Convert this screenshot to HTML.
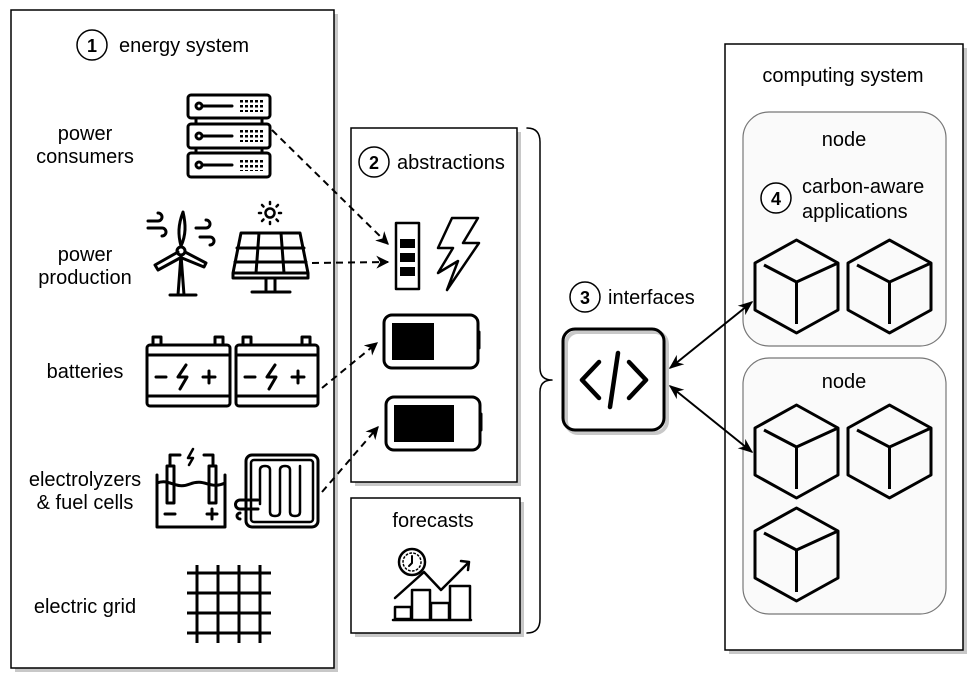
<!DOCTYPE html>
<html><head><meta charset="utf-8"><style>
html,body{margin:0;padding:0;background:#fff;}
svg{display:block;}
text{font-family:"Liberation Sans",Arial,sans-serif;fill:#000;}
</style></head><body>
<svg width="979" height="680" viewBox="0 0 979 680" xmlns="http://www.w3.org/2000/svg">
<defs>
<marker id="ah" viewBox="0 0 10 10" refX="9" refY="5" markerWidth="13" markerHeight="13" orient="auto-start-reverse" markerUnits="userSpaceOnUse"><path d="M0,0 L10,5 L0,10 L3,5 z" fill="#000"/></marker>
<marker id="ah2" viewBox="0 0 10 10" refX="9" refY="5" markerWidth="15" markerHeight="15" orient="auto-start-reverse" markerUnits="userSpaceOnUse"><path d="M0,1 L10,5 L0,9 L3,5 z" fill="#000"/></marker>
<g id="cube" fill="none" stroke="#000" stroke-width="3" stroke-linejoin="round">
<path d="M41.5,0 L83,23 L83,70 L41.5,93 L0,70 L0,23 Z"/>
<path d="M9,25 L41.5,42 L83,23 M41.5,42 L41.5,84"/>
</g>
<pattern id="dots" width="5" height="5" patternUnits="userSpaceOnUse"><rect width="3" height="2.5" fill="#000"/></pattern>
</defs>
<rect x="15" y="14" width="323" height="658" fill="#c8c8c8"/>
<rect x="355" y="132" width="166" height="354" fill="#c8c8c8"/>
<rect x="355" y="502" width="169" height="135" fill="#c8c8c8"/>
<rect x="729" y="48" width="238" height="606" fill="#c8c8c8"/>
<rect x="11" y="10" width="323" height="658" fill="#fff" stroke="#000" stroke-width="1.5"/>
<rect x="351" y="128" width="166" height="354" fill="#fff" stroke="#000" stroke-width="1.5"/>
<rect x="351" y="498" width="169" height="135" fill="#fff" stroke="#000" stroke-width="1.5"/>
<rect x="725" y="44" width="238" height="606" fill="#fff" stroke="#000" stroke-width="1.5"/>
<rect x="743" y="112" width="203" height="234" rx="26" fill="#fafafa" stroke="#777" stroke-width="1.2"/>
<rect x="743" y="358" width="203" height="256" rx="26" fill="#fafafa" stroke="#777" stroke-width="1.2"/>

<g font-size="20">
<circle cx="92" cy="45" r="15" fill="#fff" stroke="#000" stroke-width="1.5"/>
<text x="92" y="52" font-size="18" font-weight="bold" text-anchor="middle">1</text>
<text x="119" y="52">energy system</text>
<circle cx="374" cy="162" r="15" fill="#fff" stroke="#000" stroke-width="1.5"/>
<text x="374" y="169" font-size="18" font-weight="bold" text-anchor="middle">2</text>
<text x="397" y="169">abstractions</text>
<text x="433" y="527" text-anchor="middle">forecasts</text>
<circle cx="585" cy="297" r="15" fill="#fff" stroke="#000" stroke-width="1.5"/>
<text x="585" y="304" font-size="18" font-weight="bold" text-anchor="middle">3</text>
<text x="608" y="304">interfaces</text>
<text x="843" y="82" text-anchor="middle">computing system</text>
<text x="844" y="146" text-anchor="middle">node</text>
<text x="844" y="388" text-anchor="middle">node</text>
<circle cx="776" cy="198" r="15" fill="#fff" stroke="#000" stroke-width="1.5"/>
<text x="776" y="205" font-size="18" font-weight="bold" text-anchor="middle">4</text>
<text x="802" y="193">carbon-aware</text>
<text x="802" y="218">applications</text>
</g>

<g font-size="20" text-anchor="middle">
<text x="85" y="140">power</text><text x="85" y="163">consumers</text>
<text x="85" y="261">power</text><text x="85" y="284">production</text>
<text x="85" y="378">batteries</text>
<text x="85" y="486">electrolyzers</text><text x="85" y="509">&amp; fuel cells</text>
<text x="85" y="613">electric grid</text>
</g>

<g fill="none" stroke="#000" stroke-width="3" stroke-linejoin="round" stroke-linecap="round">
<rect x="188" y="95" width="82" height="23" rx="3"/>
<rect x="188" y="124" width="82" height="24" rx="3"/>
<rect x="188" y="153" width="82" height="24" rx="3"/>
<path d="M196,118 v6 M196,148 v5 M262,118 v6 M262,148 v5"/>
<circle cx="199" cy="106" r="3"/><circle cx="199" cy="136" r="3"/><circle cx="199" cy="165" r="3"/>
<path d="M203,106 H232 M203,136 H232 M203,165 H232"/>
<path d="M178,295 L181,255 L184,295 M170,295 H196"/>
<path d="M181,246 C178,235 178,225 183,212 C186,225 186,235 181,246"/>
<path d="M178,252 L155,265 L158,270 L180,258"/>
<path d="M185,252 L206,263 L204,267 L182,258"/>
<circle cx="181" cy="251" r="4"/>
<path d="M148,221 h10 a4,4 0 0 0 0,-8 M148,228 h14 a4,4 0 0 1 0,8 M196,228 h10 a4,4 0 0 0 0,-8 M200,237 h10 a4,4 0 0 1 0,8"/>
<path d="M241,233 H300 L308,273 H233 Z M233,273 V278 H308 V273"/>
<path d="M237,248 H304 M235,262 H306 M259,233 L256,273 M281,233 L284,273"/>
<path d="M266,278 V290 M275,278 V290 M252,292 H290"/>
<circle cx="270" cy="213" r="4.5" stroke-width="2.5"/>
<path d="M270,202 v2 M270,222 v2 M259,213 h2 M279,213 h2 M262,205 l1.5,1.5 M276.5,219.5 l1.5,1.5 M278,205 l-1.5,1.5 M262,221 l1.5,-1.5" stroke-width="2.5"/>
<rect x="147" y="345" width="83" height="61" rx="3"/>
<path d="M147,355 H230 M147,396 H230 M153,345 v-8 h8 v8 M215,345 v-8 h8 v8"/>
<path d="M156,377 h10 M203,377 h12 M209,371 v12 M186,365 l-8,12 h9 l-7,12"/>
<rect x="236" y="345" width="82" height="61" rx="3"/>
<path d="M236,355 H318 M236,396 H318 M243,345 v-8 h8 v8 M302,345 v-8 h8 v8"/>
<path d="M245,377 h10 M292,377 h12 M298,371 v12 M275,365 l-8,12 h9 l-7,12"/>
<path d="M157,475 V527 H225 V475"/>
<path d="M157,483 C170,478 175,490 190,484 C205,478 210,490 225,483"/>
<rect x="167" y="466" width="7" height="37"/><rect x="209" y="466" width="7" height="37"/>
<path d="M170,466 V455 H180 M213,466 V455 H204"/>
<path d="M165,514 h10 M207,514 h10 M212,509 v10"/>
<path d="M193,449 l-5,9 h5 l-4,7" stroke-width="2.5"/>
<rect x="246" y="455" width="72" height="72" rx="6"/>
<rect x="251" y="460" width="62" height="62" rx="3" stroke-width="2.5"/>
<path d="M260,504 V470 q0,-4 5,-4 q5,0 5,4 V512 q0,4 5,4 q5,0 5,-4 V470 q0,-4 5,-4 q5,0 5,4 V512 q0,4 5,4 q5,0 5,-4 V466" stroke-width="2.5"/>
<path d="M240,500 H258 M240,509 H258 M240,500 a4.5,4.5 0 0 0 0,9 M240,513 a3,3 0 0 0 0,6"/>
<path d="M197,565 V643 M218,565 V643 M239,565 V643 M260,565 V643 M187,573 H271 M187,593 H271 M187,613 H271 M187,633 H271" stroke-linecap="butt"/>

<rect x="396" y="223" width="23" height="66" stroke-width="2.5"/>
<path d="M438,273 L453,248 H438 L452,218 H478 L463,243 H479 L447,290 L458,261 Z" stroke-width="2.5"/>
<rect x="384" y="315" width="94" height="53" rx="8"/>
<path d="M479,332 v16"/>
<rect x="386" y="397" width="94" height="53" rx="8"/>
<path d="M481,414 v16"/>

<rect x="566" y="332" width="101" height="101" rx="12" stroke="#c8c8c8" stroke-width="4"/>
<rect x="563" y="329" width="101" height="101" rx="12"/>
<path d="M599,362 L582,380 L599,398 M629,362 L646,380 L629,398 M618,353 L610,407" stroke-width="4.5"/>

<circle cx="412" cy="562" r="13" stroke-width="2.5"/>
<circle cx="412" cy="562" r="9" stroke-width="1.5" stroke-dasharray="1.5 2.5"/>
<path d="M412,556 V563 L409,566" stroke-width="2"/>
<path d="M395,598 L424,572 L441,590 L468,563" stroke-width="2.5"/>
<path d="M461,561 L469,562 L468,570" stroke-width="2.5"/>
<path d="M395,619 V607 H411 V619 Z M412,619 V590 H430 V619 M431,619 V603 H449 V619 M450,619 V586 H470 V619 M393,620 H471" stroke-width="2.5"/>

<path d="M527,128 Q540,128 540,142 V368 Q540,380 552,380 Q540,380 540,392 V619 Q540,633 527,633" stroke-width="1.5"/>
</g>
<g fill="#000">
<rect x="240" y="100" width="25" height="12" fill="url(#dots)"/>
<rect x="240" y="130" width="25" height="12" fill="url(#dots)"/>
<rect x="240" y="159" width="25" height="12" fill="url(#dots)"/>
<rect x="400" y="239" width="15" height="9"/><rect x="400" y="253" width="15" height="9"/><rect x="400" y="267" width="15" height="9"/>
<rect x="392" y="323" width="42" height="37"/>
<rect x="394" y="405" width="60" height="37"/>
</g>

<g fill="none" stroke="#000" stroke-width="2" stroke-dasharray="7 5">
<path d="M272,130 L388,244" marker-end="url(#ah)"/>
<path d="M312,263 L388,262" marker-end="url(#ah)"/>
<path d="M322,388 L377,343" marker-end="url(#ah)"/>
<path d="M322,492 L378,427" marker-end="url(#ah)"/>
</g>
<g stroke="#000" stroke-width="2" fill="none">
<path d="M670,368 L752,302" marker-start="url(#ah2)" marker-end="url(#ah2)"/>
<path d="M670,386 L752,452" marker-start="url(#ah2)" marker-end="url(#ah2)"/>
</g>

<use href="#cube" x="755" y="240"/>
<use href="#cube" x="848" y="240"/>
<use href="#cube" x="755" y="405"/>
<use href="#cube" x="848" y="405"/>
<use href="#cube" x="755" y="508"/>
</svg>
</body></html>
